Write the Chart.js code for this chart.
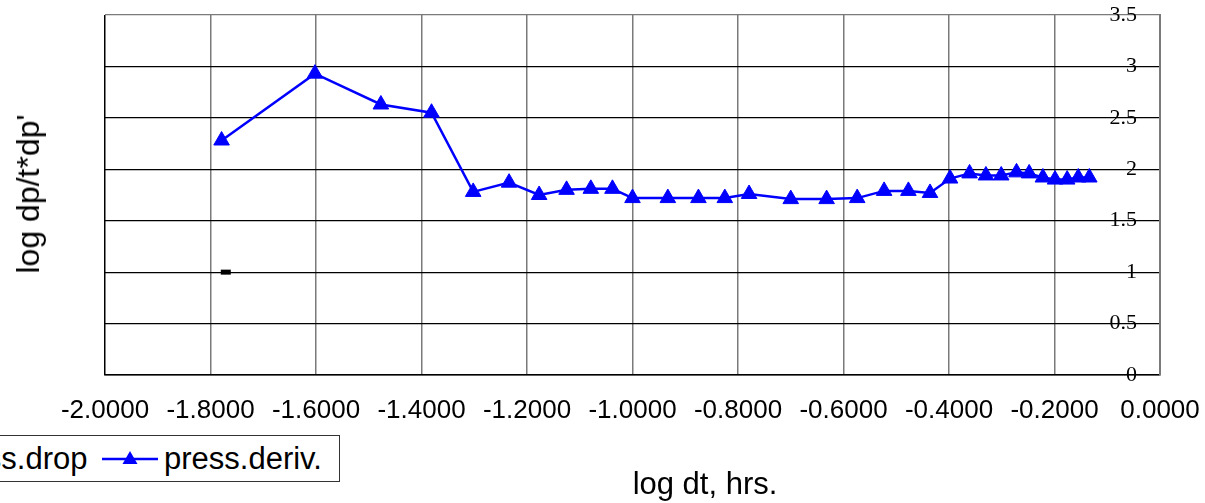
<!DOCTYPE html>
<html>
<head>
<meta charset="utf-8">
<script src="https://cdn.jsdelivr.net/npm/chart.js@4/dist/chart.umd.min.js"></script>
<style>
    html, body { margin: 0; padding: 0; background: #fff; overflow: hidden; }
    #wrap { position: relative; width: 1205px; height: 503px; }
    #plot { position: absolute; left: 0; top: 0; }
    .axis-title {
        position: absolute;
        font-family: "Liberation Sans", Arial, sans-serif;
        font-size: 31px;
        color: #000;
        white-space: nowrap;
        line-height: 1;
    }
    #xTitle { left: 705px; top: 483px; transform: translate(-50%, -50%); }
    #yTitle { left: 28px; top: 194px; font-size: 32px; transform: translate(-50%, -50%) rotate(-90deg); }
    #legend {
        position: absolute;
        left: -130px;
        top: 435px;
        width: 468px;
        height: 45px;
        border: 1px solid #333;
        background: #fff;
        font-family: "Liberation Sans", Arial, sans-serif;
        font-size: 31px;
        color: #000;
    }
    #legend .item { position: absolute; top: 0; height: 45px; display: flex; align-items: center; }
    #legend svg { display: block; }
</style>
</head>
<body>
<div id="wrap">
    <canvas id="plot" width="1205" height="503"></canvas>
    <div class="axis-title" id="xTitle">log dt, hrs.</div>
    <div class="axis-title" id="yTitle">log dp/t*dp'</div>
    <div id="legend"></div>
</div>
<script>
// log of elapsed time (hrs) and log of the pressure derivative
const derivLogDt = [
    -1.779, -1.602, -1.477, -1.381, -1.302, -1.234, -1.177, -1.125, -1.079, -1.038,
    -1.000, -0.933, -0.875, -0.825, -0.779, -0.700, -0.632, -0.574, -0.523, -0.477,
    -0.436, -0.398, -0.361, -0.330, -0.301, -0.272, -0.248, -0.222, -0.199, -0.176,
    -0.155, -0.134
];
const derivValues = [
    2.28, 2.93, 2.63, 2.55, 1.78, 1.87, 1.75, 1.80, 1.81, 1.81,
    1.72, 1.72, 1.72, 1.72, 1.76, 1.71, 1.71, 1.72, 1.79, 1.79,
    1.77, 1.91, 1.96, 1.94, 1.94, 1.97, 1.96, 1.92, 1.90, 1.90,
    1.92, 1.92
];

// pressure drop, only one sample falls inside the axes
const dropLogDt = [-1.771];
const dropValues = [1.0];

const seriesNames = ['press.drop', 'press.deriv.'];
const xTickRange = [-2, 0, 0.2];
const yTickRange = [0, 3.5, 0.5];

const FONT_SANS = '"Liberation Sans", Arial, sans-serif';
const FONT_SERIF = '"Liberation Serif", "Times New Roman", serif';
const BLUE = '#0000ff';
const GRID_GRAY = '#7a7a7a';

function toPoints(xs, ys) {
    return xs.map((x, i) => ({ x, y: ys[i] }));
}

function formatLogDt(value) {
    if (Math.abs(value) < 1e-9) return '0.0000';
    return value.toFixed(4);
}

function formatLogDp(value) {
    return String(Math.round(value * 10) / 10);
}

function buildDatasets() {
    return [
        {
            label: seriesNames[0],
            data: toPoints(dropLogDt, dropValues),
            showLine: false,
            pointStyle: 'line',
            pointRadius: 5,
            borderColor: '#000',
            backgroundColor: '#000',
            borderWidth: 5
        },
        {
            label: seriesNames[1],
            data: toPoints(derivLogDt, derivValues),
            borderColor: BLUE,
            backgroundColor: BLUE,
            borderWidth: 2.5,
            pointStyle: 'triangle',
            pointRadius: 9,
            pointBorderWidth: 1,
            pointBackgroundColor: BLUE,
            pointBorderColor: BLUE,
            tension: 0
        }
    ];
}

function buildOptions() {
    return {
        responsive: false,
        animation: false,
        layout: { padding: { left: 105, top: 15, right: 45, bottom: 77 } },
        plugins: {
            legend: { display: false },
            tooltip: { enabled: false }
        },
        scales: {
            x: {
                type: 'linear',
                min: xTickRange[0],
                max: xTickRange[1],
                ticks: {
                    stepSize: xTickRange[2],
                    color: '#000',
                    padding: 20,
                    maxRotation: 0,
                    autoSkip: false,
                    font: { family: FONT_SANS, size: 26 },
                    callback: (value) => formatLogDt(value)
                },
                grid: {
                    drawTicks: false,
                    lineWidth: 1.5,
                    color: (ctx) => (ctx.index === 0 ? '#000' : GRID_GRAY)
                },
                border: { color: '#000', width: 1.5 },
                // keep the edge labels from squeezing the plot area
                afterFit: (scale) => {
                    scale.height = 51;
                    scale.paddingLeft = 0;
                    scale.paddingRight = 0;
                }
            },
            y: {
                type: 'linear',
                position: 'right',
                min: yTickRange[0],
                max: yTickRange[1],
                ticks: {
                    stepSize: yTickRange[2],
                    mirror: true,
                    // negative offset pulls the mirrored labels inside the plot
                    padding: -23,
                    color: '#000',
                    font: { family: FONT_SERIF, size: 22 },
                    callback: (value) => formatLogDp(value)
                },
                grid: {
                    drawTicks: false,
                    lineWidth: 1.2,
                    color: (ctx) => (ctx.tick && ctx.tick.value === yTickRange[1] ? GRID_GRAY : '#000')
                },
                border: { color: GRID_GRAY, width: 2 },
                // labels sit inside the plot, so the axis itself takes no room
                afterFit: (scale) => {
                    scale.width = 0;
                    scale.paddingTop = 0;
                    scale.paddingBottom = 0;
                }
            }
        }
    };
}

// legend swatches: a black dash for the drop, a blue line with a triangle for the derivative
function swatch(kind) {
    if (kind === 'dash') {
        return '<svg width="56" height="20"><rect x="23" y="8" width="10" height="5" fill="#000"/></svg>';
    }
    return '<svg width="56" height="20">' +
        '<line x1="0" y1="10" x2="56" y2="10" stroke="' + BLUE + '" stroke-width="2.5"/>' +
        '<polygon points="28,2 35.5,15 20.5,15" fill="' + BLUE + '"/></svg>';
}

function buildLegend() {
    const legend = document.getElementById('legend');
    const entries = [
        { left: 8, kind: 'dash', label: seriesNames[0] },
        { left: 231, kind: 'line', label: seriesNames[1] }
    ];
    for (const entry of entries) {
        const item = document.createElement('div');
        item.className = 'item';
        item.style.left = entry.left + 'px';
        item.innerHTML = swatch(entry.kind) + '<span style="margin-left:6px">' + entry.label + '</span>';
        legend.appendChild(item);
    }
}

buildLegend();

new Chart(document.getElementById('plot'), {
    type: 'line',
    data: { datasets: buildDatasets() },
    options: buildOptions()
});
</script>
</body>
</html>
